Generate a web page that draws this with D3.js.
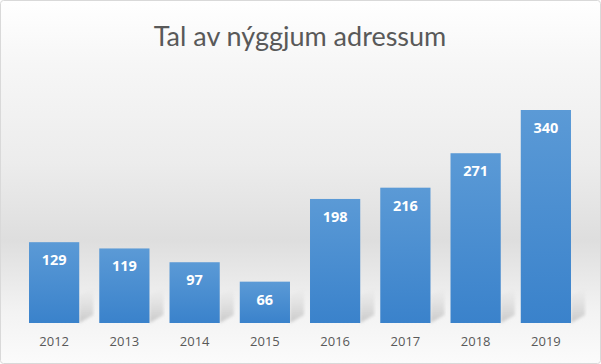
<!DOCTYPE html>
<html>
<head>
<meta charset="utf-8">
<script src="https://cdn.jsdelivr.net/npm/d3@7"></script>
<style>
  body { margin: 0; background: #fff; }
  svg { display: block; }
</style>
</head>
<body>
<script>
var years = ["2012", "2013", "2014", "2015", "2016", "2017", "2018", "2019"];
var counts = [129, 119, 97, 66, 198, 216, 271, 340];
var title = "Tal av nýggjum adressum";

var width = 601, height = 364,
    baseY = 323;

var svg = d3.select("body").append("svg")
    .attr("width", width)
    .attr("height", height);

var defs = svg.append("defs");

// background wash, like the office chart style
var bg = defs.append("linearGradient")
    .attr("id", "bg-grad")
    .attr("x1", 0).attr("y1", 0).attr("x2", 0).attr("y2", 1);
bg.append("stop").attr("offset", "0%").attr("stop-color", "#ffffff");
bg.append("stop").attr("offset", "18%").attr("stop-color", "#f6f6f6");
bg.append("stop").attr("offset", "45%").attr("stop-color", "#ececec");
bg.append("stop").attr("offset", "66%").attr("stop-color", "#dedede");
bg.append("stop").attr("offset", "86%").attr("stop-color", "#f3f3f3");
bg.append("stop").attr("offset", "100%").attr("stop-color", "#fbfbfb");

var barGrad = defs.append("linearGradient")
    .attr("id", "bar-grad")
    .attr("x1", 0).attr("y1", 0).attr("x2", 0).attr("y2", 1);
barGrad.append("stop").attr("offset", "0%").attr("stop-color", "#5b9ad6");
barGrad.append("stop").attr("offset", "100%").attr("stop-color", "#3a82cb");

var shadowGrad = defs.append("linearGradient")
    .attr("id", "shadow-grad")
    .attr("x1", 0).attr("y1", 1).attr("x2", 0).attr("y2", 0);
shadowGrad.append("stop").attr("offset", "0%").attr("stop-color", "#a9a9a9").attr("stop-opacity", 0.6);
shadowGrad.append("stop").attr("offset", "100%").attr("stop-color", "#bdbdbd").attr("stop-opacity", 0);

defs.append("filter").attr("id", "soft")
    .append("feGaussianBlur").attr("stdDeviation", 1.5);

svg.append("rect")
    .attr("x", 0.5).attr("y", 0.5)
    .attr("width", width - 1).attr("height", height - 1)
    .attr("rx", 3)
    .attr("fill", "url(#bg-grad)")
    .attr("stroke", "#d9d9d9");

svg.append("text")
    .attr("x", 300)
    .attr("y", 46)
    .attr("text-anchor", "middle")
    .style("font-family", "Lato, 'Open Sans', sans-serif")
    .style("font-size", "27px")
    .style("fill", "#595959")
    .text(title);

var x = d3.scaleBand()
    .domain(years)
    .range([19, 581])
    .paddingInner(0.285)
    .paddingOuter(0.1425);

var y = d3.scaleLinear()
    .domain([0, 340])
    .range([baseY, 110]);

var bars = svg.append("g").attr("class", "bars");

// soft shadows to the right of each bar
bars.selectAll("path.shadow").data(counts)
    .enter().append("path")
    .attr("class", "shadow")
    .attr("d", function (d, i) {
        var x0 = x(years[i]) + x.bandwidth();
        var h = Math.min(28, baseY - y(d));
        return "M" + x0 + "," + baseY +
            "L" + x0 + "," + (baseY - h) +
            "L" + (x0 + 14) + "," + (baseY - h - 6) +
            "L" + (x0 + 14) + "," + (baseY - 8) + "Z";
    })
    .attr("fill", "url(#shadow-grad)")
    .attr("filter", "url(#soft)");

bars.selectAll("rect.bar").data(counts)
    .enter().append("rect")
    .attr("class", "bar")
    .attr("x", function (d, i) { return x(years[i]); })
    .attr("y", function (d) { return y(d); })
    .attr("width", x.bandwidth())
    .attr("height", function (d) { return baseY - y(d); })
    .attr("fill", "url(#bar-grad)");

bars.selectAll("text.value").data(counts)
    .enter().append("text")
    .attr("class", "value")
    .attr("x", function (d, i) { return x(years[i]) + x.bandwidth() / 2; })
    .attr("y", function (d) { return y(d) + 23; })
    .attr("text-anchor", "middle")
    .style("font-family", "'Open Sans', 'DejaVu Sans', sans-serif")
    .style("font-weight", "bold")
    .style("font-size", "14.5px")
    .style("fill", "#ffffff")
    .text(function (d) { return d; });

var xAxis = d3.axisBottom(x).tickSize(0).tickPadding(14);

var axisG = svg.append("g")
    .attr("class", "x axis")
    .attr("transform", "translate(0," + baseY + ")")
    .call(xAxis);

axisG.select(".domain").remove();
axisG.selectAll("text")
    .style("font-family", "'Open Sans', 'Liberation Sans', sans-serif")
    .style("font-size", "13px")
    .style("fill", "#595959");
</script>
</body>
</html>
